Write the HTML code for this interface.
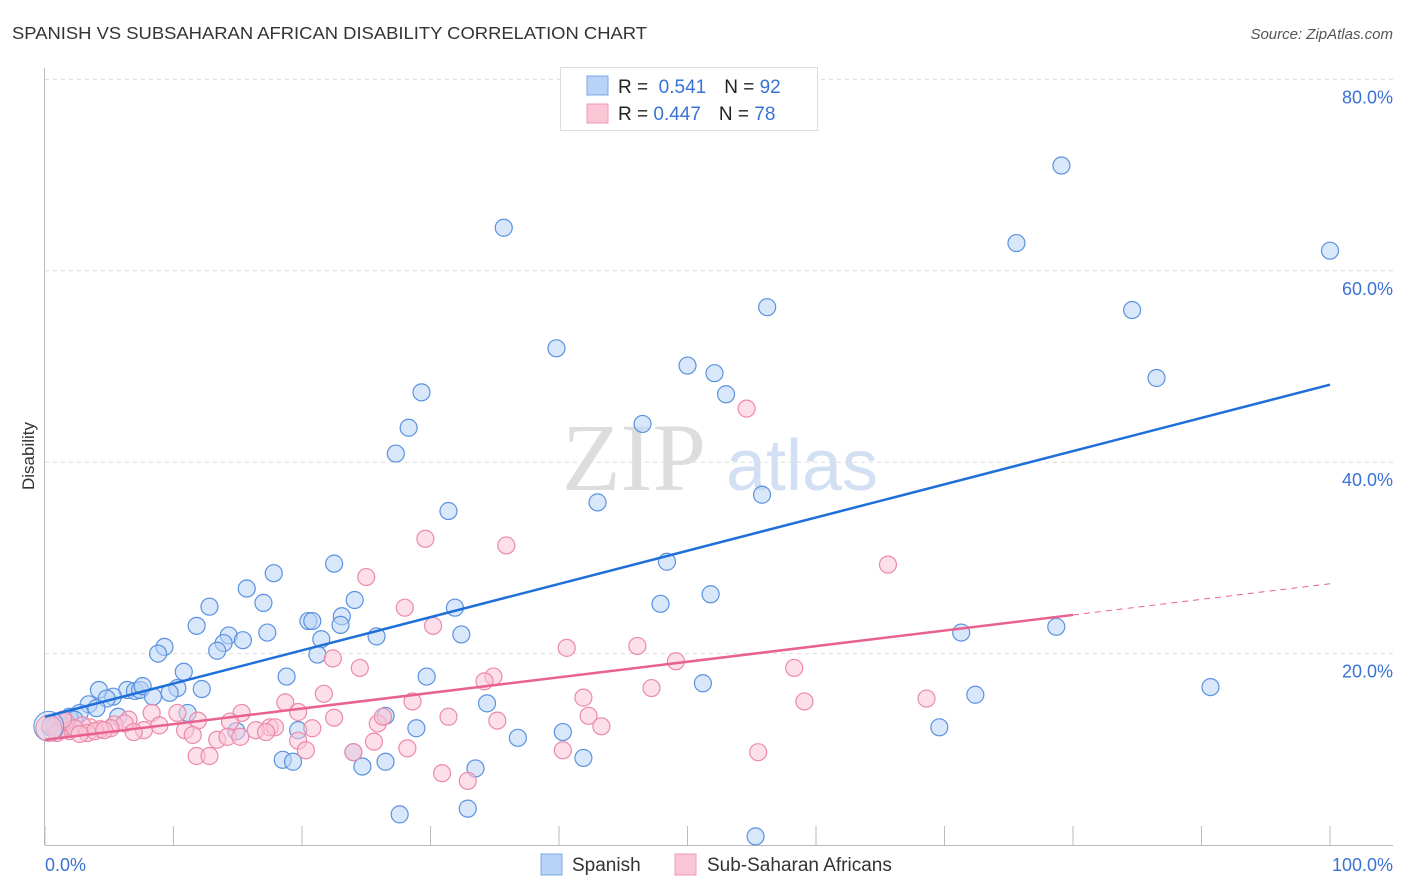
<!DOCTYPE html>
<html><head><meta charset="utf-8"><style>
body{margin:0;background:#fff;font-family:"Liberation Sans",sans-serif;}
svg{display:block}
</style></head><body>
<svg id="chart" width="1406" height="892">
<text x="12" y="39" font-size="17.5" fill="#333" textLength="635" lengthAdjust="spacingAndGlyphs">SPANISH VS SUBSAHARAN AFRICAN DISABILITY CORRELATION CHART</text>
<text x="1393" y="39" font-size="15" fill="#555" font-style="italic" text-anchor="end">Source: ZipAtlas.com</text>
<text x="34" y="456" font-size="17" fill="#333" text-anchor="middle" transform="rotate(-90 34 456)">Disability</text>
<g>
<text x="634" y="490" font-size="96" fill="#ddd" font-family="Liberation Serif,serif" text-anchor="middle">ZIP</text>
<text x="802" y="490" font-size="72" fill="#d3e0f3" text-anchor="middle">atlas</text>
</g>
<g id="grid"></g>
<g id="axes"></g>
<g id="pts"></g>
<g id="trend"></g>
<g>
<rect x="560.5" y="67.5" width="257" height="63" fill="#fff" stroke="#ddd"/>
<rect x="587" y="76" width="21" height="19" fill="#b8d3f5" stroke="#7aa7e6"/>
<rect x="587" y="104" width="21" height="19" fill="#fac5d5" stroke="#ef9ab6"/>
<text x="618" y="93" font-size="19" fill="#222">R = <tspan fill="#3a72d6">&#160;0.541</tspan><tspan dx="18">N = </tspan><tspan fill="#3a72d6">92</tspan></text>
<text x="618" y="120" font-size="19" fill="#222">R = <tspan fill="#3a72d6">0.447</tspan><tspan dx="18">N = </tspan><tspan fill="#3a72d6">78</tspan></text>
</g>
<g>
<rect x="541" y="854" width="21" height="21" fill="#b8d3f5" stroke="#7aa7e6"/>
<text x="572" y="871" font-size="19" fill="#333">Spanish</text>
<rect x="675" y="854" width="21" height="21" fill="#fac5d5" stroke="#ef9ab6"/>
<text x="707" y="871" font-size="19" fill="#333">Sub-Saharan Africans</text>
</g>
</svg>
<script>
const blueX=[35.7,79.1,75.6,100,56.2,84.6,39.8,86.5,50.0,52.1,53.0,29.3,28.3,46.5,27.3,55.8,43.0,31.4,48.4,22.5,17.8,15.7,12.8,17.0,24.1,31.9,51.8,47.9,23.1,20.5,20.8,11.8,14.3,17.3,23.0,32.4,25.8,21.5,13.9,15.4,9.3,8.8,13.4,21.2,71.3,78.7,10.8,18.8,29.7,4.2,6.4,7.0,7.4,7.6,10.3,12.2,9.7,8.4,5.3,4.8,3.4,4.0,2.7,1.9,5.7,11.1,72.4,90.7,51.2,34.4,26.5,28.9,14.9,19.7,36.8,69.6,40.3,18.5,19.3,24.7,24.0,26.5,41.9,33.5,27.6,32.9,55.3,0.4,0.8,1.2,1.6,2.3];
const blueY=[64.5,71.0,62.9,62.1,56.2,55.9,51.9,48.8,50.1,49.3,47.1,47.3,43.6,44.0,40.9,36.6,35.8,34.9,29.6,29.4,28.4,26.8,24.9,25.3,25.6,24.8,26.2,25.2,23.9,23.4,23.4,22.9,21.9,22.2,23.0,22.0,21.8,21.5,21.1,21.4,20.7,20.0,20.3,19.9,22.2,22.8,18.1,17.6,17.6,16.2,16.2,16.1,16.2,16.6,16.4,16.3,15.9,15.5,15.5,15.3,14.7,14.3,13.8,13.4,13.4,13.8,15.7,16.5,16.9,14.8,13.5,12.2,11.9,12.0,11.2,12.3,11.8,8.9,8.7,8.2,9.7,8.7,9.1,8.0,3.2,3.8,0.9,12.3,12.5,12.9,12.4,13.1];
const pinkX=[54.6,29.6,35.9,65.6,25.0,28.0,30.2,40.6,46.1,22.4,24.5,49.1,58.3,34.9,34.2,47.2,21.7,18.7,28.6,41.9,59.1,68.6,19.7,15.3,10.3,8.3,22.5,31.4,35.2,42.3,43.3,25.9,26.3,6.5,5.4,6.2,8.9,11.9,14.4,17.5,20.8,16.4,17.9,7.7,6.9,10.9,11.5,13.4,14.2,15.2,17.2,25.6,19.7,20.3,24.0,28.2,40.3,55.5,11.8,12.8,30.9,32.9,5.1,4.3,3.5,2.9,1.9,1.2,0.8,0.4,1.6,2.3,1.4,3.3,3.9,4.6,2.7,0.9];
const pinkY=[45.6,32.0,31.3,29.3,28.0,24.8,22.9,20.6,20.8,19.5,18.5,19.2,18.5,17.6,17.1,16.4,15.8,14.9,15.0,15.4,15.0,15.3,13.9,13.8,13.8,13.8,13.3,13.4,13.0,13.5,12.4,12.7,13.4,13.1,12.6,12.7,12.5,13.0,12.9,12.3,12.2,12.0,12.3,12.0,11.8,12.0,11.5,11.0,11.3,11.3,11.8,10.8,10.9,9.9,9.7,10.1,9.9,9.7,9.3,9.3,7.5,6.7,12.2,12.1,12.3,12.5,11.9,12.0,12.3,12.5,12.9,12.2,13.1,11.7,11.9,12.0,11.6,11.7];
const blueTrend=[13.4,48.1];
const pinkTrend=[11.0,27.3];
const pinkSolidEnd=80;
const yTicks=[20,40,60,80];
const xTicks=[0,10,20,30,40,50,60,70,80,90,100];
const NS="http://www.w3.org/2000/svg";
const sx=v=>45+v*12.85, sy=v=>845-v*9.57;
function mk(t,a,p){const e=document.createElementNS(NS,t);for(const k in a)e.setAttribute(k,a[k]);p.appendChild(e);return e;}
const grid=document.getElementById('grid'),axes=document.getElementById('axes'),pts=document.getElementById('pts'),tr=document.getElementById('trend');
yTicks.forEach(v=>{
 const l=mk('line',{x1:45,x2:1393,y1:sy(v),y2:sy(v),stroke:'#ddd','stroke-dasharray':'4,4'},grid);
 
 
 const t=mk('text',{x:1393,y:sy(v)+24,'font-size':18,fill:'#3a72d6','text-anchor':'end'},grid);t.textContent=v.toFixed(1)+'%';
 
 
});
mk('line',{x1:44.5,x2:44.5,y1:68,y2:845,stroke:'#bbb'},axes);
mk('line',{x1:45,x2:1393,y1:845.5,y2:845.5,stroke:'#bbb'},axes);
xTicks.forEach(v=>{const l=mk('line',{x1:sx(v),x2:sx(v),y1:826,y2:845,stroke:'#bbb'},axes);
 
 });
[[0,'start'],[100,'end']].forEach(([v,a])=>{const t=mk('text',{x:v?1393:45,y:871,'font-size':18,fill:'#3a72d6','text-anchor':a},axes);t.textContent=v.toFixed(1)+'%';
 
 });
function dots(X,Y,fill,stroke,name){X.forEach((x,i)=>{const c=mk('circle',{cx:sx(x),cy:sy(Y[i]),r:8.5,fill:fill,'fill-opacity':0.55,stroke:stroke,'stroke-width':1.2},pts);
 
 });}
dots(blueX,blueY,'#b8d3f5','#5b92e0','spanish-point');
dots(pinkX,pinkY,'#fac5d5','#ec8aab','subsaharan-point');
mk('circle',{cx:sx(0.3),cy:sy(12.4),r:15,fill:'#b8d3f5','fill-opacity':0.5,stroke:'#5b92e0'},pts);
mk('circle',{cx:sx(0.3),cy:sy(12.2),r:13,fill:'#fac5d5','fill-opacity':0.5,stroke:'#ec8aab'},pts);
const bl=mk('line',{x1:sx(0),y1:sy(blueTrend[0]),x2:sx(100),y2:sy(blueTrend[1]),stroke:'#1f6fd9','stroke-width':2.5},tr);


const pe=pinkTrend[0]+(pinkTrend[1]-pinkTrend[0])*pinkSolidEnd/100;
const pl=mk('line',{x1:sx(0),y1:sy(pinkTrend[0]),x2:sx(pinkSolidEnd),y2:sy(pe),stroke:'#e8618f','stroke-width':2.5},tr);


const pd=mk('line',{x1:sx(pinkSolidEnd),y1:sy(pe),x2:sx(100),y2:sy(pinkTrend[1]),stroke:'#e8618f','stroke-width':1,'stroke-dasharray':'6,5'},tr);


</script>
</body></html>
